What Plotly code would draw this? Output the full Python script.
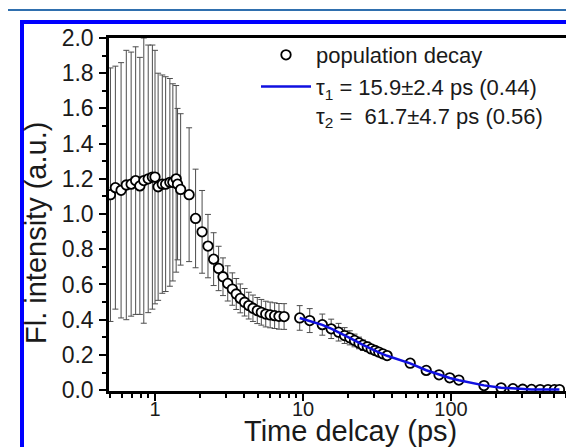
import plotly.graph_objects as go

# ---- data ----
t_early = [0.50, 0.54, 0.59, 0.64, 0.69, 0.74, 0.79, 0.84, 0.90, 0.96, 1.00, 1.05, 1.12, 1.18, 1.26, 1.32, 1.39, 1.42, 1.49, 1.70]
v_early = [1.11, 1.15, 1.135, 1.165, 1.17, 1.19, 1.16, 1.19, 1.20, 1.21, 1.21, 1.155, 1.17, 1.17, 1.18, 1.18, 1.20, 1.17, 1.14, 1.11]
e_early = [0.72, 0.69, 0.725, 0.765, 0.75, 0.76, 0.73, 0.81, 0.76, 0.75, 0.72, 0.645, 0.62, 0.61, 0.59, 0.56, 0.53, 0.43, 0.43, 0.38]

t_mid = [1.88, 2.08, 2.28, 2.49, 2.69, 2.88, 3.10, 3.33, 3.54, 3.77, 4.03, 4.30, 4.59, 4.91, 5.23, 5.60, 6.00, 6.43, 6.88, 7.45]
v_mid = [0.975, 0.899, 0.818, 0.744, 0.691, 0.644, 0.606, 0.574, 0.546, 0.521, 0.499, 0.480, 0.465, 0.452, 0.442, 0.432, 0.427, 0.423, 0.419, 0.418]
e_mid = [0.28, 0.235, 0.18, 0.15, 0.126, 0.107, 0.10, 0.092, 0.088, 0.082, 0.078, 0.076, 0.075, 0.074, 0.073, 0.073, 0.073, 0.073, 0.073, 0.073]

t_late = [9.5, 11.1, 13.5, 15.5, 17.4, 19.1, 20.7, 22.3, 23.9, 25.4, 27.2, 28.9, 30.7, 32.5, 34.6, 37.0,
          53, 68, 83, 98, 113, 167, 218, 262, 305, 350, 400, 452, 500, 540]
v_late = [0.41, 0.395, 0.372, 0.348, 0.329, 0.31, 0.297, 0.282, 0.268, 0.255, 0.246, 0.234, 0.225, 0.216, 0.206, 0.196,
          0.153, 0.112, 0.087, 0.07, 0.057, 0.026, 0.013, 0.008, 0.005, 0.004, 0.003, 0.003, 0.003, 0.003]
e_late = [0.07, 0.068, 0.06, 0.055, 0.05, 0.045, 0.04, 0.036, 0.033, 0.03, 0.027, 0.025, 0.022, 0.02, 0.018, 0.016,
          0.01, 0.008, 0.006, 0.005, 0.004, 0.003, 0.002, 0.0, 0.0, 0.0, 0.0, 0.0, 0.0, 0.0]

fit_t = [9.5, 11.1, 13.5, 15.5, 17.4, 19.1, 20.7, 22.3, 25.4, 28.9, 32.5, 37.0, 53, 68, 83, 98, 113, 167, 218, 262, 305, 350, 400, 452, 500, 540]
fit_v = [0.41, 0.394, 0.371, 0.349, 0.329, 0.312, 0.297, 0.283, 0.257, 0.234, 0.214, 0.195, 0.152, 0.113, 0.087, 0.069, 0.056, 0.027, 0.014, 0.009, 0.006, 0.004, 0.003, 0.003, 0.003, 0.003]

legend_data = "population decay"
legend_fit = "τ<sub>1</sub> = 15.9±2.4 ps (0.44)<br>τ<sub>2</sub> =  61.7±4.7 ps (0.56)"
x_title = "Time delcay (ps)"
y_title = "Fl. intensity (a.u.)"

FONT = "Arial, Liberation Sans, sans-serif"

t_all = t_early + t_mid + t_late
v_all = v_early + v_mid + v_late
e_all = e_early + e_mid + e_late

fig = go.Figure()
fig.add_trace(go.Scatter(
    x=t_all, y=v_all, mode="markers", name=legend_data,
    marker=dict(symbol="circle", size=9.5, color="white", line=dict(color="black", width=1.8)),
    error_y=dict(type="data", array=e_all, visible=True, color="#4d4d4d", thickness=1, width=3),
))
fig.add_trace(go.Scatter(
    x=fit_t, y=fit_v, mode="lines", name=legend_fit,
    line=dict(color="#1010e0", width=2.5),
))

W, H = 574, 447
L, T, R, B = 101, 30, 0, 64
pw, ph = W - L - R, H - T - B

def px_x(p):
    return (p - L) / pw

def px_y(p):
    return (H - B - p) / ph

fig.update_layout(
    width=W, height=H,
    margin=dict(l=L, r=R, t=T, b=B, pad=0),
    paper_bgcolor="white", plot_bgcolor="white",
    font=dict(family=FONT, color="#1a1a1a"),
    showlegend=True,
    legend=dict(x=px_x(248), y=px_y(26), xanchor="left", yanchor="top",
                bgcolor="rgba(0,0,0,0)", font=dict(size=22, family=FONT), valign="top",
                tracegroupgap=0, itemwidth=50),
    xaxis=dict(type="log", range=[-0.3108, 2.885], dtick=1, tick0=0,
               showgrid=False, zeroline=False,
               showline=True, linecolor="black", linewidth=2.5, mirror=True,
               ticks="outside", ticklen=7, tickwidth=2, tickcolor="black",
               minor=dict(dtick="D1", ticks="outside", ticklen=4, tickwidth=1.5, tickcolor="black", showgrid=False),
               tickfont=dict(size=20, family=FONT), ticklabelstandoff=-9),
    yaxis=dict(range=[-0.005, 2.0], dtick=0.2, tick0=0, tickformat=".1f",
               showgrid=False, zeroline=False,
               showline=True, linecolor="black", linewidth=2.5,
               ticks="outside", ticklen=7, tickwidth=2, tickcolor="black",
               minor=dict(dtick=0.1, ticks="outside", ticklen=4, tickwidth=1.5, tickcolor="black", showgrid=False),
               tickfont=dict(size=23, family=FONT), ticklabelstandoff=1),
    annotations=[
        dict(text=x_title, xref="paper", yref="paper", x=px_x(342), y=px_y(423),
             xanchor="center", yanchor="middle", showarrow=False, font=dict(size=29, family=FONT)),
        dict(text=y_title, xref="paper", yref="paper", x=px_x(28), y=px_y(225), textangle=-90,
             xanchor="center", yanchor="middle", showarrow=False, font=dict(size=29, family=FONT)),
    ],
    shapes=[
        dict(type="line", xref="paper", yref="paper", x0=px_x(0), x1=px_x(W), y0=px_y(2), y1=px_y(2),
             line=dict(color="#2f6fae", width=2)),
        dict(type="line", xref="paper", yref="paper", x0=px_x(12), x1=px_x(W), y0=px_y(14), y1=px_y(14),
             line=dict(color="#0000ff", width=4)),
        dict(type="line", xref="paper", yref="paper", x0=px_x(14), x1=px_x(14), y0=px_y(12), y1=px_y(H),
             line=dict(color="#0000ff", width=4)),
    ],
)

fig.write_html("out.html")
